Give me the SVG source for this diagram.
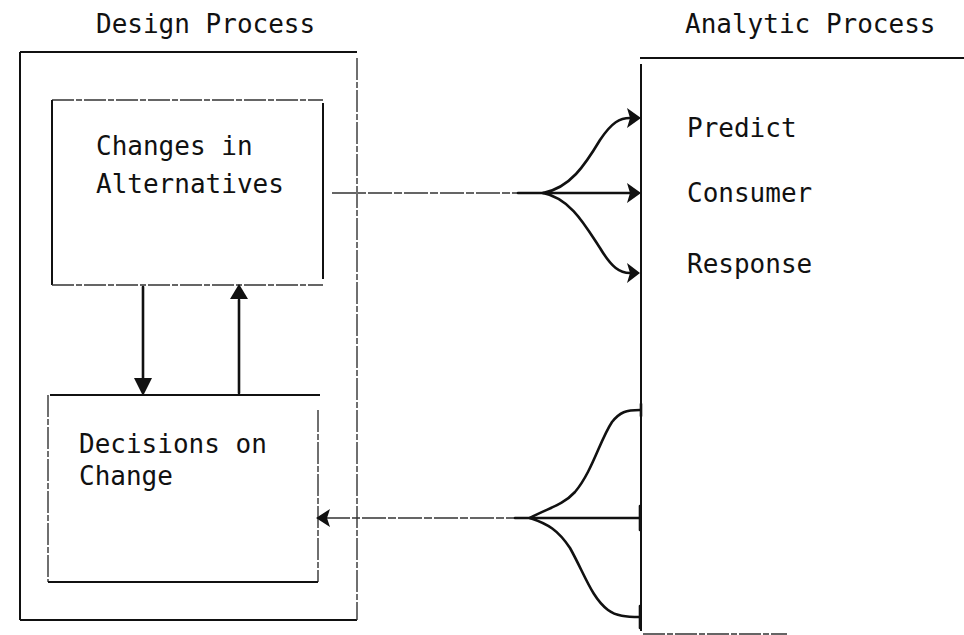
<svg xmlns="http://www.w3.org/2000/svg" width="964" height="635" viewBox="0 0 964 635">
<style>
text{font-family:"DejaVu Sans Mono","Liberation Mono",monospace;font-size:26px;fill:#111}
.box{fill:none;stroke:#111;stroke-width:2}
.faint{fill:none;stroke:#333;stroke-width:1.4;stroke-dasharray:22 2 6 2}
.ln{fill:none;stroke:#111;stroke-width:2.6;stroke-linecap:round}
.thin{fill:none;stroke:#333;stroke-width:1.6;stroke-dasharray:24 2 8 2}
.head{fill:#111}
</style>
<rect width="964" height="635" fill="#fff"/>
<g id="design-process">
<text x="96" y="33">Design Process</text>
<line class="box" x1="20" y1="52" x2="357" y2="52"/>
<line class="box" x1="20" y1="52" x2="20" y2="620"/>
<line class="box" x1="20" y1="620" x2="357" y2="620"/>
<line class="faint" x1="357" y1="58" x2="357" y2="620"/>
</g>
<g id="changes-in-alternatives">
<line class="faint" x1="52" y1="100" x2="323" y2="100"/>
<line class="box" x1="52" y1="100" x2="52" y2="285"/>
<line class="box" x1="323" y1="103" x2="323" y2="279"/>
<line class="faint" x1="52" y1="285" x2="323" y2="285"/>
<text x="96" y="155">Changes in</text>
<text x="96" y="193">Alternatives</text>
</g>
<g id="decisions-on-change">
<line class="box" x1="50" y1="395" x2="320" y2="395"/>
<line class="faint" x1="48" y1="395" x2="48" y2="582"/>
<line class="faint" x1="318" y1="410" x2="318" y2="582"/>
<line class="box" x1="48" y1="582" x2="318" y2="582"/>
<text x="79" y="453">Decisions on</text>
<text x="79" y="485">Change</text>
</g>
<g id="analytic-process">
<text x="685" y="33">Analytic Process</text>
<line class="box" x1="640" y1="58" x2="964" y2="58"/>
<line class="box" x1="641" y1="64" x2="641" y2="631"/>
<line class="faint" x1="643" y1="634" x2="787" y2="634"/>
<text x="687" y="137">Predict</text>
<text x="687" y="202">Consumer</text>
<text x="687" y="273">Response</text>
</g>
<g id="connectors">
<line class="ln" x1="143" y1="287" x2="143" y2="382" stroke-width="3.4"/>
<polygon class="head" points="134,378 152,378 143,396"/>
<line class="ln" x1="239" y1="300" x2="239" y2="393" stroke-width="1.8"/>
<polygon class="head" points="230,299 248,299 239,284"/>
<line class="thin" x1="332" y1="193" x2="520" y2="193"/>
<path class="ln" d="M518,193 L630,193"/>
<path class="ln" d="M543,193 C570,188 585,165 600,140 C612,122 620,118 630,118"/>
<path class="ln" d="M543,193 C570,198 585,225 600,248 C612,268 620,273 630,273"/>
<polygon class="head" points="641,118 627,108 630,118 627,128"/>
<polygon class="head" points="641,193 627,183 630,193 627,203"/>
<polygon class="head" points="640,273 627,263 630,273 627,283"/>
<line class="thin" x1="326" y1="518" x2="520" y2="518"/>
<path class="ln" d="M515,518 L640,518"/>
<path class="ln" d="M530,518 C548,508 562,506 575,492 C592,472 600,440 612,422 C620,412 626,410 640,410"/>
<path class="ln" d="M530,518 C548,524 558,530 570,548 C585,575 592,598 608,610 C616,616 626,617 640,617"/>
<polygon class="head" points="316,518 330,509 327,518 330,527"/>
<line class="ln" x1="641" y1="404" x2="641" y2="416" stroke-width="3.5"/>
<line class="ln" x1="640" y1="506" x2="640" y2="530" stroke-width="4"/>
<line class="ln" x1="640" y1="606" x2="640" y2="628" stroke-width="3.5"/>
</g>
</svg>
